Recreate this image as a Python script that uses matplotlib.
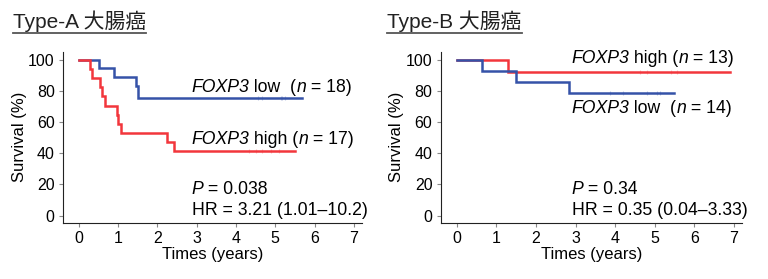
import numpy as np
import matplotlib
matplotlib.use("Agg")
import matplotlib.pyplot as plt

plt.rcParams["font.family"] = ["Liberation Sans", "Noto Sans CJK JP", "DejaVu Sans"]

# ── Data ──────────────────────────────────────────────────────────────
TITLES = ["Type-A 大腸癌", "Type-B 大腸癌"]

# Type-A
A_LOW_T = [0, 0.52, 0.90, 1.46, 1.51, 5.69]
A_LOW_S = [100, 94.4, 88.9, 83.3, 75.6, 75.6]
A_LOW_CENS = [4.55, 4.67, 5.14, 5.18, 5.25]
A_HIGH_T = [0, 0.30, 0.35, 0.53, 0.60, 0.68, 0.97, 1.01, 1.08, 2.25, 2.43, 5.50]
A_HIGH_S = [100, 94.1, 88.2, 82.4, 76.5, 70.6, 64.7, 58.8, 52.9, 47.1, 41.2, 41.2]
A_HIGH_CENS = [4.34, 4.50, 4.67, 4.89, 5.10]

# Type-B
B_LOW_T = [0, 0.63, 1.51, 2.83, 5.48]
B_LOW_S = [100, 92.9, 85.7, 78.6, 78.6]
B_LOW_CENS = [3.87, 4.20, 4.80, 5.05, 5.13]
B_HIGH_T = [0, 1.30, 6.91]
B_HIGH_S = [100, 92.3, 92.3]
B_HIGH_CENS = [4.64, 4.80, 5.40, 5.56]

RED = "#F2363C"
BLUE = "#3552A8"
FS = 12.7


def km(ax, t, s, cens, color):
    ax.step(t, s, where="post", color=color, lw=1.8, solid_joinstyle="miter")
    # survival is piecewise constant: take the step level in force at each censor time
    level = [s[np.searchsorted(t, c, side="right") - 1] for c in cens]
    ax.plot(cens, level, ls="none", marker="|", ms=3, mew=0.8, color=color, alpha=0.3)


def rich(ax, x, y, parts):
    # chain text pieces so italic and upright runs sit side by side
    txt, st = parts[0]
    t = ax.text(x, y, txt, style=st, fontsize=FS, va="center")
    for txt, st in parts[1:]:
        t = ax.annotate(txt, xy=(1, 0.5), xycoords=t, style=st, fontsize=FS,
                        va="center", ha="left")


N, I = "normal", "italic"

fig = plt.figure(figsize=(7.68, 2.79), dpi=100)
ax_a = fig.add_axes([0.082, 0.202, 0.389, 0.612])
ax_b = fig.add_axes([0.574, 0.202, 0.392, 0.612])

km(ax_a, A_LOW_T, A_LOW_S, A_LOW_CENS, BLUE)
km(ax_a, A_HIGH_T, A_HIGH_S, A_HIGH_CENS, RED)
km(ax_b, B_HIGH_T, B_HIGH_S, B_HIGH_CENS, RED)
km(ax_b, B_LOW_T, B_LOW_S, B_LOW_CENS, BLUE)

for ax in (ax_a, ax_b):
    ax.set_xlim(-0.4, 7.2)
    ax.set_ylim(-4.5, 105)
    ax.set_xticks(range(0, 8))
    ax.set_yticks(range(0, 101, 20))
    ax.spines["top"].set_visible(False)
    ax.spines["right"].set_visible(False)
    ax.spines["left"].set_color("#222222")
    ax.spines["bottom"].set_color("#222222")
    ax.tick_params(labelsize=11.5, length=3, color="#888888", pad=3)
    ax.set_xlabel("Times (years)", fontsize=12, labelpad=1)
    ax.set_ylabel("Survival (%)", fontsize=12, labelpad=1)

rich(ax_a, 2.87, 82, [("FOXP3", I), (" low  (", N), ("n", I), (" = 18)", N)])
rich(ax_a, 2.87, 49, [("FOXP3", I), (" high (", N), ("n", I), (" = 17)", N)])
rich(ax_a, 2.87, 17, [("P", I), (" = 0.038", N)])
rich(ax_a, 2.87, 3.5, [("HR = 3.21 (1.01–10.2)", N)])

rich(ax_b, 2.9, 100.5, [("FOXP3", I), (" high (", N), ("n", I), (" = 13)", N)])
rich(ax_b, 2.9, 69, [("FOXP3", I), (" low  (", N), ("n", I), (" = 14)", N)])
rich(ax_b, 2.9, 17, [("P", I), (" = 0.34", N)])
rich(ax_b, 2.9, 3.5, [("HR = 0.35 (0.04–3.33)", N)])

# titles with underline
fig.canvas.draw()
renderer = fig.canvas.get_renderer()
for x0, title in zip([0.0165, 0.0165 + 0.488], TITLES):
    t = fig.text(x0, 0.90, title, fontsize=15, color="#222222", va="baseline")
    bb = t.get_window_extent(renderer).transformed(fig.transFigure.inverted())
    fig.add_artist(plt.Line2D([bb.x0, bb.x1], [bb.y0 - 0.005, bb.y0 - 0.005],
                              color="#555555", lw=1.3, transform=fig.transFigure))

fig.savefig("out.png", dpi=100)
